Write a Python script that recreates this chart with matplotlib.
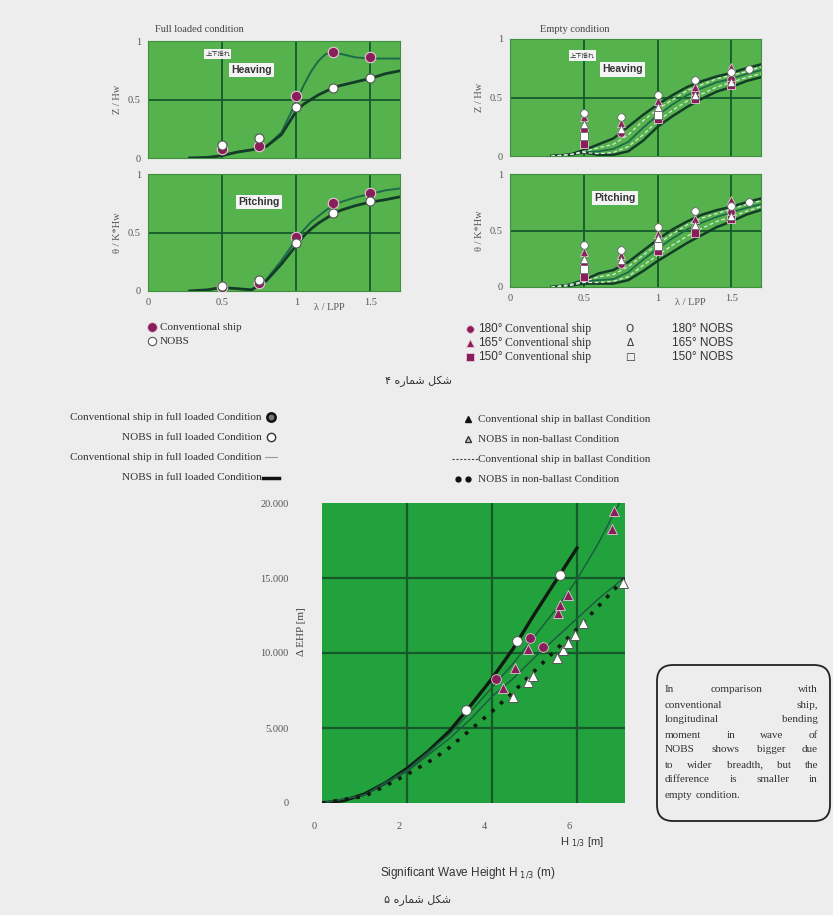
import matplotlib
matplotlib.use('Agg')
import matplotlib.pyplot as plt
from matplotlib.patches import FancyBboxPatch
from matplotlib.transforms import ScaledTranslation
import numpy as np

nan = np.nan

# ---- full loaded condition (top left) ----
pt_x = [0.5, 0.75, 1.0, 1.25, 1.5]
full_conv_heave = [0.08, 0.10, 0.53, 0.91, 0.86]
full_nobs_heave = [0.11, 0.17, 0.44, 0.60, 0.68]
full_conv_pitch = [0.03, 0.07, 0.46, 0.75, 0.84]
full_nobs_pitch = [0.04, 0.09, 0.41, 0.67, 0.77]

curve_x = [0.28, 0.4, 0.5, 0.6, 0.7, 0.8, 0.9, 1.0, 1.05, 1.1, 1.15, 1.2, 1.25, 1.3, 1.4, 1.5, 1.6, 1.72]
full_conv_heave_curve = [0, 0.005, 0.02, 0.05, 0.07, 0.1, 0.22, 0.48, 0.62, 0.74, 0.83, 0.89, 0.9, 0.89, 0.86, 0.85, 0.85, 0.85]
full_nobs_heave_curve = [0, 0.005, 0.02, 0.05, 0.07, 0.1, 0.2, 0.4, 0.46, 0.5, 0.54, 0.57, 0.6, 0.62, 0.65, 0.68, 0.72, 0.75]
full_conv_pitch_curve = [0, 0.01, 0.03, 0.02, 0.01, 0.1, 0.26, 0.44, 0.52, 0.59, 0.64, 0.69, 0.73, 0.76, 0.8, 0.83, 0.86, 0.88]
full_nobs_pitch_curve = [0, 0.01, 0.03, 0.02, 0.01, 0.09, 0.23, 0.39, 0.47, 0.53, 0.58, 0.62, 0.66, 0.69, 0.73, 0.76, 0.78, 0.81]

# ---- empty condition (top right) ----
ex = [0.5, 0.75, 1.0, 1.25, 1.5]
e_heave = {
    'conv180': [0.22, 0.20, 0.38, 0.55, 0.66],
    'conv165': [0.33, 0.28, 0.47, 0.59, 0.76],
    'conv150': [0.10, nan, 0.32, 0.49, 0.61],
    'nobs180': [0.37, 0.33, 0.52, 0.65, 0.72],
    'nobs165': [0.27, 0.23, 0.42, 0.52, 0.63],
    'nobs150': [0.17, nan, 0.35, nan, nan],
}
e_pitch = {
    'conv180': [0.20, 0.20, 0.38, 0.52, 0.66],
    'conv165': [0.31, 0.28, 0.47, 0.60, 0.77],
    'conv150': [0.09, nan, 0.32, 0.48, 0.60],
    'nobs180': [0.37, 0.33, 0.53, 0.67, 0.72],
    'nobs165': [0.25, 0.24, 0.43, 0.55, 0.63],
    'nobs150': [0.16, nan, 0.36, nan, nan],
}
extra_x, extra_heave, extra_pitch = 1.62, 0.74, 0.75

ecx = [0.28, 0.4, 0.5, 0.6, 0.7, 0.8, 0.9, 1.0, 1.1, 1.2, 1.3, 1.4, 1.5, 1.6, 1.72]
e_heave_up = [0, 0.01, 0.05, 0.1, 0.15, 0.25, 0.35, 0.44, 0.52, 0.59, 0.64, 0.68, 0.71, 0.75, 0.79]
e_heave_mid = [0, 0.01, 0.03, 0.04, 0.06, 0.12, 0.24, 0.35, 0.44, 0.52, 0.58, 0.63, 0.66, 0.70, 0.74]
e_heave_low = [0, 0.01, 0.03, 0.01, 0.01, 0.04, 0.13, 0.25, 0.34, 0.42, 0.49, 0.55, 0.59, 0.64, 0.68]
e_heave_da = [0, 0.01, 0.04, 0.07, 0.1, 0.18, 0.3, 0.40, 0.48, 0.56, 0.61, 0.66, 0.69, 0.72, 0.77]
e_heave_db = [0, 0.01, 0.03, 0.02, 0.03, 0.08, 0.18, 0.30, 0.39, 0.47, 0.53, 0.59, 0.63, 0.67, 0.71]
e_pitch_up = [0, 0.02, 0.06, 0.12, 0.15, 0.22, 0.32, 0.42, 0.51, 0.58, 0.64, 0.68, 0.71, 0.75, 0.79]
e_pitch_mid = [0, 0.02, 0.05, 0.06, 0.07, 0.13, 0.24, 0.34, 0.43, 0.51, 0.57, 0.62, 0.66, 0.70, 0.74]
e_pitch_low = [0, 0.01, 0.03, 0.03, 0.03, 0.06, 0.14, 0.23, 0.31, 0.39, 0.46, 0.53, 0.58, 0.64, 0.69]
e_pitch_da = [0, 0.02, 0.05, 0.09, 0.11, 0.18, 0.28, 0.38, 0.47, 0.55, 0.61, 0.65, 0.69, 0.73, 0.77]
e_pitch_db = [0, 0.01, 0.04, 0.04, 0.05, 0.09, 0.19, 0.28, 0.37, 0.45, 0.52, 0.58, 0.62, 0.67, 0.72]

# ---- EHP chart (bottom) ----
nobs_full_lx = [0, 0.5, 1, 1.5, 2, 2.5, 3, 3.5, 4, 4.5, 5, 5.5, 6]
nobs_full_ly = [0, 150, 600, 1350, 2300, 3450, 4800, 6500, 8300, 10300, 12600, 14800, 17000]
conv_ball_lx = [0, 1, 2, 3, 3.5, 4, 4.5, 5, 5.5, 6, 6.5, 7.0]
conv_ball_ly = [0, 550, 2200, 4600, 6100, 7700, 9300, 11100, 12900, 14900, 17300, 20000]
conv_full_lx = [0, 1, 2, 3, 3.5, 4, 4.5, 5, 5.5, 6, 6.5, 7.1]
conv_full_ly = [0, 520, 2100, 4300, 5600, 7100, 8300, 9700, 11000, 12300, 13600, 15000]
nobs_nb_lx = [0, 1, 1.5, 2, 2.6, 3, 3.5, 4, 4.5, 5, 5.5, 6, 6.5, 7.3]
nobs_nb_ly = [0, 450, 1150, 1900, 2900, 3700, 4900, 6100, 7400, 8800, 10200, 11600, 13100, 15500]

conv_full_px = [4.1, 4.9, 5.2]
conv_full_py = [8300, 11000, 10400]
nobs_full_px = [3.4, 4.6, 5.6]
nobs_full_py = [6200, 10800, 15200]
conv_ball_px = [4.25, 4.55, 4.85, 5.55, 5.6, 5.8, 6.82, 6.87]
conv_ball_py = [7700, 9000, 10300, 12700, 13200, 13900, 18300, 19500]
nobs_nb_px = [4.5, 4.85, 4.97, 5.52, 5.68, 5.8, 5.95, 6.15, 7.08]
nobs_nb_py = [7100, 8100, 8500, 9700, 10200, 10700, 11200, 12000, 14700]

ehp_ticks = [0, 5000, 10000, 15000, 20000]
ehp_labels = ['0', '5.000', '10.000', '15.000', '20.000']

note_lines = ['In comparison with', 'conventional ship,', 'longitudinal bending',
              'moment in wave of', 'NOBS shows bigger due', 'to wider breadth, but the',
              'difference is smaller in', 'empty condition.']

# Persian captions (presentation forms, visual order)
cap4 = '\u06F4 \uFEE9\uFEAD\uFE8E\uFEE4\uFEB7 \uFEDE\uFB91\uFEB7'
cap5 = '\u06F5 \uFEE9\uFEAD\uFE8E\uFEE4\uFEB7 \uFEDE\uFB91\uFEB7'

W, H = 833, 915
BG = '#ededed'
GREEN_TOP = '#55b24c'
GREEN_BOT = '#22a23c'
GRID = '#15592a'
PURPLE = '#8a1e5a'
SERIF = 'Liberation Serif'
SANS = 'Liberation Sans'

fig = plt.figure(figsize=(W / 100, H / 100), dpi=100, facecolor=BG)


def px_axes(l, t, r, b):
    return fig.add_axes([l / W, 1 - b / H, (r - l) / W, (b - t) / H])


def top_panel(ax, bottom):
    ax.set_facecolor(GREEN_TOP)
    ax.set_xlim(0, 1.7)
    ax.set_ylim(0, 1)
    for v in [0.5, 1.0, 1.5]:
        ax.axvline(v, color=GRID, lw=1.3, zorder=1)
    ax.axhline(0.5, color=GRID, lw=1.3, zorder=1)
    ax.set_yticks([0, 0.5, 1])
    ax.set_yticklabels(['0', '0.5', '1'], family=SERIF, fontsize=7.5, color='#555')
    if bottom:
        ax.set_xticks([0, 0.5, 1, 1.5])
        ax.set_xticklabels(['0', '0.5', '1', '1.5'], family=SERIF, fontsize=7.5, color='#555')
        ax.text(1.22, -0.1, '\u03bb / LPP', ha='center', va='top', family=SERIF,
                fontsize=7.5, color='#555', transform=ax.transData, clip_on=False)
    else:
        ax.set_xticks([])
    ax.tick_params(length=0, pad=5)
    for s in ax.spines.values():
        s.set_color('#3f8f3f')
        s.set_linewidth(0.8)


def tag(ax, x, y, s, size=7.5, family=SANS, weight='bold'):
    ax.text(x, y, s, ha='center', va='center', fontsize=size, family=family,
            weight=weight, color='#333', zorder=6,
            bbox=dict(boxstyle='square,pad=0.2', fc='#f4f4f4', ec='none'))


# top-left panels
ax1 = px_axes(148, 41, 400, 158)
top_panel(ax1, False)
ax1.plot(curve_x, full_conv_heave_curve, color='#1d6b4a', lw=1.4, zorder=3)
ax1.plot(curve_x, full_nobs_heave_curve, color='#143d28', lw=2.0, zorder=3)
ax1.plot(pt_x, full_conv_heave, 'o', ms=7.5, mfc=PURPLE, mec='#e8c8d8', mew=0.8, zorder=4)
ax1.plot(pt_x, full_nobs_heave, 'o', ms=6.5, mfc='white', mec='#555', mew=0.8, zorder=5)
tag(ax1, 0.47, 0.89, '上下揺れ', size=4.5, family='Noto Sans CJK JP', weight='normal')
tag(ax1, 0.70, 0.75, 'Heaving')
ax1.set_ylabel('Z / Hw', family=SERIF, fontsize=7.5, color='#555', labelpad=4)

ax2 = px_axes(148, 174, 400, 291)
top_panel(ax2, True)
ax2.plot(curve_x, full_conv_pitch_curve, color='#1d6b4a', lw=1.4, zorder=3)
ax2.plot(curve_x, full_nobs_pitch_curve, color='#143d28', lw=2.0, zorder=3)
ax2.plot(pt_x, full_conv_pitch, 'o', ms=7.5, mfc=PURPLE, mec='#e8c8d8', mew=0.8, zorder=4)
ax2.plot(pt_x, full_nobs_pitch, 'o', ms=6.5, mfc='white', mec='#555', mew=0.8, zorder=5)
tag(ax2, 0.75, 0.76, 'Pitching')
ax2.set_ylabel('\u03b8 / K*Hw', family=SERIF, fontsize=7.5, color='#555', labelpad=4)

# top-right panels
marks = {'180': 'o', '165': '^', '150': 's'}


def empty_panel(ax, series, extra, up, mid, low, da, db):
    ax.plot(ecx, up, color='#143d28', lw=1.8, zorder=3)
    ax.plot(ecx, mid, color='#1d6b4a', lw=1.3, zorder=3)
    ax.plot(ecx, low, color='#143d28', lw=1.8, zorder=3)
    ax.plot(ecx, da, color='#d8ecd8', lw=0.9, ls=(0, (3, 2)), zorder=3)
    ax.plot(ecx, db, color='#d8ecd8', lw=0.9, ls=(0, (3, 2)), zorder=3)
    for ang, m in marks.items():
        ax.plot(ex, series['conv' + ang], m, ms=5.5, mfc=PURPLE, mec='#e8c8d8', mew=0.6, zorder=4)
    for ang, m in marks.items():
        ax.plot(ex, series['nobs' + ang], m, ms=5.5, mfc='white', mec='#666', mew=0.6, zorder=5)
    ax.plot([extra_x], [extra], 'o', ms=5.5, mfc='white', mec='#666', mew=0.6, zorder=5)


ax3 = px_axes(510, 39, 761, 156)
top_panel(ax3, False)
empty_panel(ax3, e_heave, extra_heave, e_heave_up, e_heave_mid, e_heave_low, e_heave_da, e_heave_db)
tag(ax3, 0.49, 0.86, '上下揺れ', size=4.5, family='Noto Sans CJK JP', weight='normal')
tag(ax3, 0.76, 0.74, 'Heaving')
ax3.set_ylabel('Z / Hw', family=SERIF, fontsize=7.5, color='#555', labelpad=4)

ax4 = px_axes(510, 174, 761, 287)
top_panel(ax4, True)
empty_panel(ax4, e_pitch, extra_pitch, e_pitch_up, e_pitch_mid, e_pitch_low, e_pitch_da, e_pitch_db)
tag(ax4, 0.71, 0.79, 'Pitching')
ax4.set_ylabel('\u03b8 / K*Hw', family=SERIF, fontsize=7.5, color='#555', labelpad=4)

# bottom EHP chart
ax5 = px_axes(322, 503, 625, 803)
ax5.set_facecolor(GREEN_BOT)
ax5.set_xlim(0, 7.13)
ax5.set_ylim(0, 20000)
for v in [2, 4, 6]:
    ax5.axvline(v, color=GRID, lw=1.6, zorder=1)
for v in [5000, 10000, 15000]:
    ax5.axhline(v, color=GRID, lw=1.6, zorder=1)
ax5.set_xticks([0, 2, 4, 6])
ax5.set_xticklabels(['0', '2', '4', '6'], family=SERIF, fontsize=7.5, color='#555')
ax5.set_yticks(ehp_ticks)
ax5.set_yticklabels(ehp_labels, family=SERIF, fontsize=7.5, color='#555')
ax5.tick_params(axis='y', length=0, pad=24)
ax5.tick_params(axis='x', length=0, pad=14)
shift = ScaledTranslation(-8 / 100, 0, fig.dpi_scale_trans)
for lbl in ax5.get_xticklabels():
    lbl.set_transform(lbl.get_transform() + shift)
for s in ax5.spines.values():
    s.set_visible(False)
ax5.plot(nobs_full_lx, nobs_full_ly, color='#101a10', lw=2.4, zorder=3)
ax5.plot(conv_ball_lx, conv_ball_ly, color='#1a5a40', lw=1.0, zorder=3)
ax5.plot(conv_full_lx, conv_full_ly, color='#1a5a40', lw=1.0, zorder=3)
ax5.plot(nobs_nb_lx, nobs_nb_ly, color='#101a10', lw=2.6, ls=(0, (1, 2.2)), zorder=3)
ax5.plot(conv_ball_px, conv_ball_py, '^', ms=7, mfc=PURPLE, mec='#e8c8d8', mew=0.6, zorder=4, clip_on=False)
ax5.plot(conv_full_px, conv_full_py, 'o', ms=7, mfc=PURPLE, mec='#e8c8d8', mew=0.6, zorder=4)
ax5.plot(nobs_nb_px, nobs_nb_py, '^', ms=7, mfc='white', mec='#555', mew=0.7, zorder=5, clip_on=False)
ax5.plot(nobs_full_px, nobs_full_py, 'o', ms=7, mfc='white', mec='#555', mew=0.7, zorder=5)

# overlay in pixel coordinates for free text and legends
ov = fig.add_axes([0, 0, 1, 1])
ov.set_xlim(0, W)
ov.set_ylim(H, 0)
ov.axis('off')
ov.patch.set_alpha(0)

ov.text(302, 632, '\u0394 EHP [m]', family=SERIF, fontsize=8, color='#444',
        rotation=90, ha='center', va='center')

ov.text(155, 30, 'Full loaded condition', family=SERIF, fontsize=7.5, color='#444', va='center')
ov.text(540, 30, 'Empty condition', family=SERIF, fontsize=7.5, color='#444', va='center')

# top-left legend
ov.plot(152, 327, 'o', ms=7, mfc=PURPLE, mec='#e8c8d8', mew=0.6)
ov.text(160, 327, 'Conventional ship', family=SERIF, fontsize=8, color='#333', va='center')
ov.plot(152, 341, 'o', ms=6, mfc='white', mec='#555', mew=0.8)
ov.text(160, 341, 'NOBS', family=SERIF, fontsize=8, color='#333', va='center')

# top-right legend
rows = [('180\u00b0', 'o', 'O'), ('165\u00b0', '^', '\u0394'), ('150\u00b0', 's', '\u25a1')]
for i, (ang, m, sym) in enumerate(rows):
    y = 329 + i * 14
    ov.plot(470, y, m, ms=5.5, mfc=PURPLE, mec='#e8c8d8', mew=0.6)
    ov.text(478, y, ang, family=SANS, fontsize=8.5, color='#333', va='center')
    ov.text(505, y, 'Conventional ship', family=SERIF, fontsize=8.5, color='#333', va='center')
    ov.text(630, y, sym, family='DejaVu Sans', fontsize=7.5, color='#333', va='center', ha='center')
    ov.text(672, y, ang + ' NOBS', family=SANS, fontsize=8.5, color='#333', va='center')

ov.text(418, 381, cap4, family='DejaVu Sans', fontsize=8, color='#333', ha='center', va='center')
ov.text(418, 900, cap5, family='DejaVu Sans', fontsize=8, color='#333', ha='center', va='center')

# bottom-left legend
ly = [417, 437, 457, 478]
ltexts = ['Conventional ship in full loaded Condition', 'NOBS in full loaded Condition',
          'Conventional ship in full loaded Condition', 'NOBS in full loaded Condition']
for y, s in zip(ly, ltexts):
    ov.text(262, y, s, family=SERIF, fontsize=8, color='#333', ha='right', va='center')
ov.plot(271, ly[0], 'o', ms=6, mfc='#777', mec='#111', mew=1.8)
ov.plot(271, ly[1], 'o', ms=6, mfc='white', mec='#333', mew=1.0)
ov.plot([265, 277], [ly[2], ly[2]], color='#999', lw=0.8)
ov.plot([263, 279], [ly[3], ly[3]], color='#111', lw=2.5)

# bottom-right legend
ry = [419, 439, 459, 479]
rtexts = ['Conventional ship in ballast Condition', 'NOBS in non-ballast Condition',
          'Conventional ship in ballast Condition', 'NOBS in non-ballast Condition']
for y, s in zip(ry, rtexts):
    ov.text(478, y, s, family=SERIF, fontsize=8, color='#333', va='center')
ov.plot(468, ry[0], '^', ms=4.5, mfc='#111', mec='#111')
ov.plot(468, ry[1], '^', ms=5, mfc='#ccc', mec='#333', mew=1.0)
ov.plot([452, 478], [ry[2], ry[2]], color='#444', lw=0.8, ls=(0, (2, 1.5)))
ov.plot([458, 468], [ry[3], ry[3]], 'o', ms=3.5, color='#111', ls='none')

# bottom chart axis captions
ov.text(582, 843, 'H $_{1/3}$ [m]', family=SANS, fontsize=8, color='#333', ha='center', va='center')
ov.text(468, 873, 'Significant Wave Height H $_{1/3}$ (m)', family=SANS, fontsize=8.5,
        color='#333', ha='center', va='center')

# note box with justified text
ov.add_patch(FancyBboxPatch((657, 665), 173, 156, boxstyle='round,pad=0,rounding_size=16',
                            fc='none', ec='#222', lw=1.3))
renderer = fig.canvas.get_renderer()
x0, x1 = 665, 818
for i, line in enumerate(note_lines):
    y = 690 + i * 15
    words = line.split()
    objs = [ov.text(0, y, w, family=SERIF, fontsize=8, color='#333', va='center') for w in words]
    widths = [o.get_window_extent(renderer).width for o in objs]
    if i == len(note_lines) - 1 or len(words) == 1:
        gap = 3.0
    else:
        gap = (x1 - x0 - sum(widths)) / (len(words) - 1)
    x = x0
    for o, wd in zip(objs, widths):
        o.set_x(x)
        x += wd + gap

fig.savefig('out.png', dpi=100, facecolor=BG)
